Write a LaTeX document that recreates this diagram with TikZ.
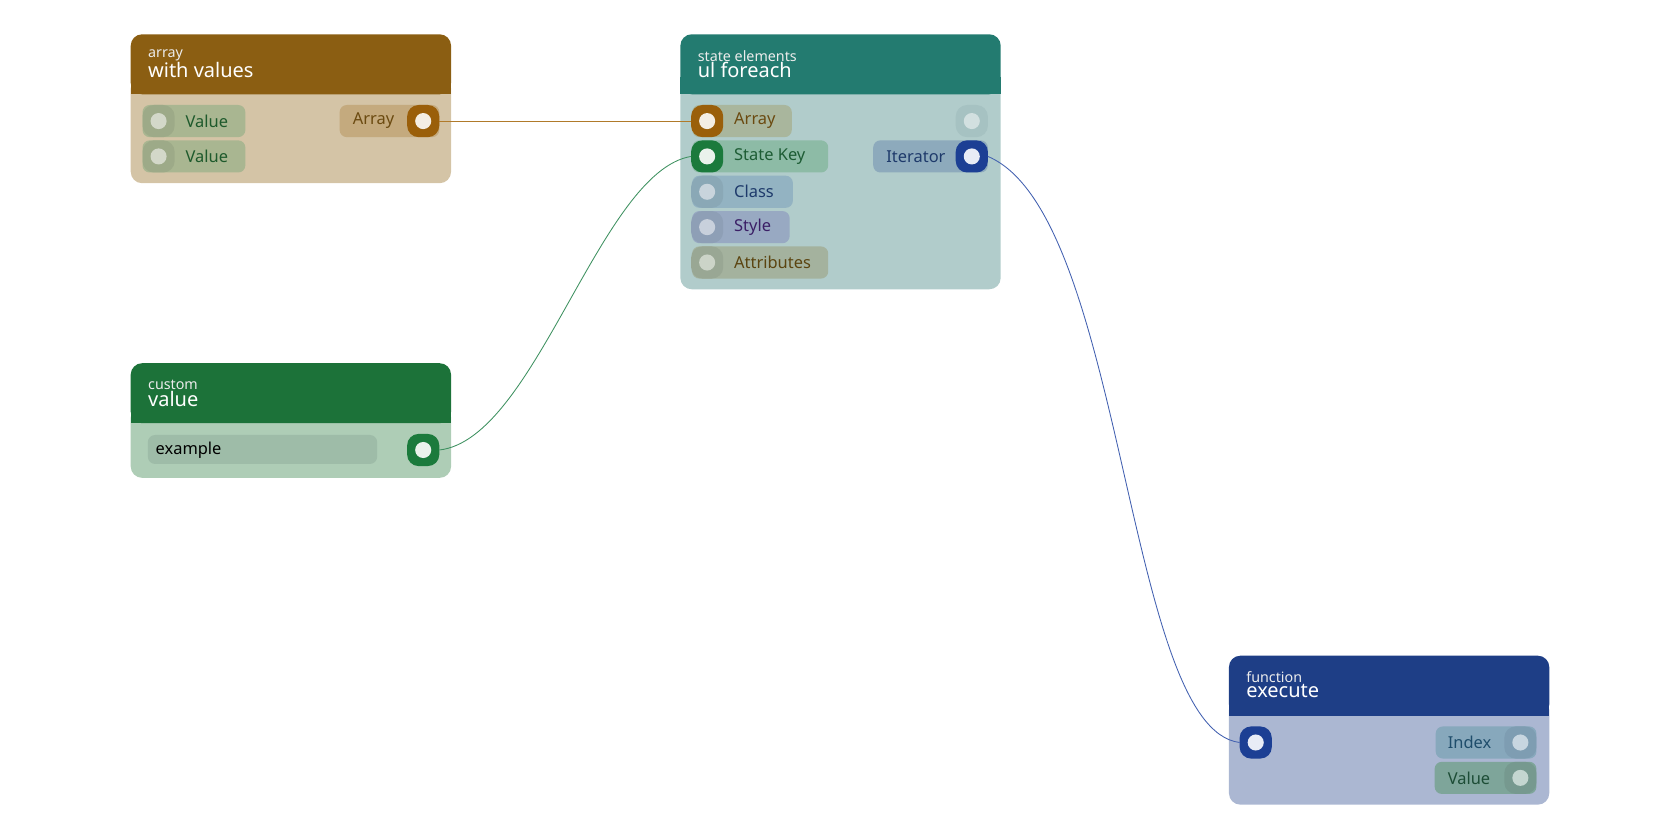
\documentclass[tikz,border=0pt]{standalone}
\usepackage{fontspec}
\setmainfont{Noto Sans}
\usetikzlibrary{positioning}
\definecolor{orwire}{HTML}{B07A2A}\definecolor{grwire}{HTML}{3E9160}
\definecolor{blwire}{HTML}{4260B0}
% pill: name, x0, x1, y, fill hex, text hex, label, label x
\newcommand{\pill}[8]{%
  \definecolor{pf}{HTML}{#5}\definecolor{pt}{HTML}{#6}%
  \fill[pf,rounded corners=5] (#2,#4-15) rectangle (#3,#4+15);
  \node[pinlabel,text=pt] (#1) at (#8,#4) {#7};}
% socket: name, x, y, fill hex, dot hex
\newcommand{\sock}[5]{%
  \definecolor{sf}{HTML}{#4}\definecolor{sd}{HTML}{#5}%
  \fill[sf,rounded corners=8] (#2-15,#3-15) rectangle (#2+15,#3+15);
  \fill[sd] (#2,#3) circle (7.5);
  \coordinate (#1) at (#2,#3);}
% card: name, x0, y0, y1, head hex, body hex, small, big
\newcommand{\card}[8]{%
  \definecolor{ch}{HTML}{#5}\definecolor{cb}{HTML}{#6}%
  \fill[cb,rounded corners=8] (#2,#3+40) rectangle (#2+299,#4);
  \fill[ch,rounded corners=8] (#2,#3+56) rectangle (#2+299,#3);
  \fill[ch] (#2,#3+56) rectangle (#2+299,#3+40);
  \node[smalltitle] (#1s) at (#2+16,#3+20) {#7};
  \node[bigtitle] (#1b) at (#2+16,#3+33) {#8};}
\begin{document}
\begin{tikzpicture}[x=0.75pt,y=-0.75pt,
    pinlabel/.style={anchor=west,font=\fontsize{11.5}{12}\selectfont,inner sep=0},
    smalltitle/.style={anchor=west,text=white!85!gray,font=\fontsize{10}{10}\selectfont,inner sep=0},
    bigtitle/.style={anchor=west,text=white,font=\fontsize{14}{14}\selectfont,inner sep=0},
    wire/.style={semithick}]
\useasboundingbox (0,0) rectangle (1568,784);
% array / with values
\card{arr}{122}{32}{171}{8B5E12}{D4C4A6}{array}{with values}
\pill{av1}{133}{229}{113}{A9B691}{1E5A2C}{Value}{173}
\sock{av1s}{148}{113}{9DAA88}{D3D8C9}
\pill{av2}{133}{229}{146}{A9B691}{1E5A2C}{Value}{173}
\sock{av2s}{148}{146}{9DAA88}{D3D8C9}
\pill{aout}{317}{410}{113}{C4AA7E}{6B4A10}{Array}{329}
\sock{aouts}{395}{113}{9A5F0A}{F4EEE4}
% custom / value
\card{cus}{122}{339}{446}{1C7239}{AECDB6}{custom}{value}
\definecolor{exf}{HTML}{9EBCA8}
\fill[exf,rounded corners=5] (138,406) rectangle (352,433);
\node[pinlabel,text=black] (ex) at (145,420) {example};
\sock{couts}{395}{420}{1B7A3C}{EAF2EC}
% state elements / ul foreach
\card{ul}{635}{32}{270}{237B70}{B1CCCB}{state elements}{ul foreach}
\pill{uarr}{646}{739}{113}{A9B69D}{6B4A10}{Array}{685}
\sock{uarrs}{660}{113}{9A5F0A}{F4EEE4}
\pill{ukey}{646}{773}{146}{8DBBA6}{1D5C34}{State Key}{685}
\sock{ukeys}{660}{146}{1B7A3C}{EAF2EC}
\pill{ucls}{646}{740}{179}{93B3C2}{1E3A6B}{Class}{685}
\sock{uclss}{660}{179}{8AA8B6}{C8D4DC}
\pill{usty}{646}{737}{212}{98A9C2}{3B1F66}{Style}{685}
\sock{ustys}{660}{212}{8E9FB6}{C8D0DC}
\pill{uatt}{646}{773}{245}{A4B29E}{5B4410}{Attributes}{685}
\sock{uatts}{660}{245}{99A794}{CCD4C8}
\sock{uouts}{907}{113}{A6C2C2}{D2E0E0}
\pill{uit}{815}{922}{146}{8DAABC}{1E3A6B}{Iterator}{827}
\sock{uits}{907}{146}{1C3F94}{E8ECF6}
% function / execute
\card{fn}{1147}{612}{751}{1E3E86}{ABB7D2}{function}{execute}
\sock{fins}{1172}{693}{1C3F94}{E8ECF6}
\pill{fidx}{1340}{1434}{693}{87A8BC}{1F4D6B}{Index}{1351}
\sock{fidxs}{1419}{693}{7E9DB2}{C8D6E0}
\pill{fval}{1339}{1434}{726}{7EA59A}{1D4D36}{Value}{1351}
\sock{fvals}{1419}{726}{76998F}{C4D6D0}
% wires
\draw[wire,orwire] ([xshift=11.25pt]aouts) -- ([xshift=-11.25pt]uarrs);
\draw[wire,grwire] ([xshift=11.25pt]couts) .. controls (500,410) and (560,160) .. ([xshift=-11.25pt]ukeys);
\draw[wire,blwire] ([xshift=11.25pt]uits) .. controls (1050,200) and (1050,680) .. ([xshift=-11.25pt]fins);
\end{tikzpicture}
\end{document}
